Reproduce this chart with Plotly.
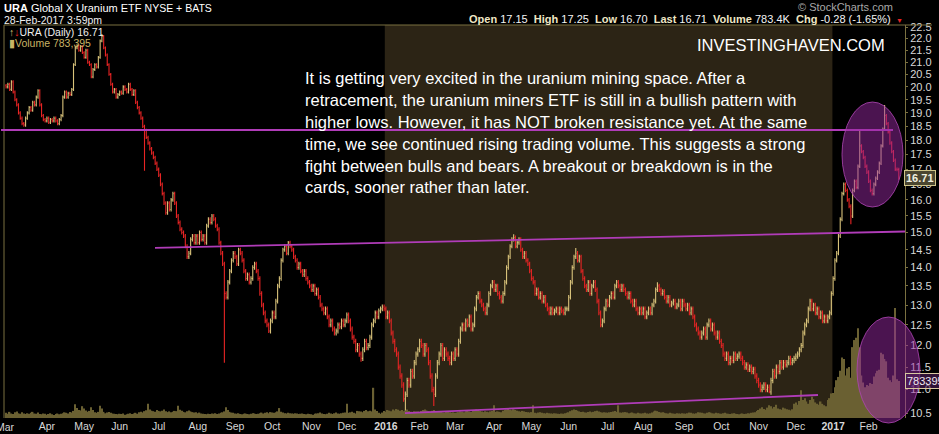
import math
import pandas as pd
import plotly.graph_objects as go

# ---------------- data ----------------
nyse_holidays = ["2015-04-03", "2015-05-25", "2015-07-03", "2015-09-07", "2015-11-26", "2015-12-25",
                 "2016-01-01", "2016-01-18", "2016-02-15", "2016-03-25", "2016-05-30", "2016-07-04",
                 "2016-09-05", "2016-11-24", "2016-12-26", "2017-01-02", "2017-01-16", "2017-02-20"]
dates = pd.bdate_range("2015-03-02", "2017-02-28", freq="C", holidays=nyse_holidays)

close = [
    # 2015 Mar
    20.0, 20.1, 19.9, 20.2, 19.8, 19.5, 19.3, 19.0, 18.8, 18.6, 18.55, 18.8, 19.0, 19.2, 19.1, 19.4, 19.3, 19.6, 19.85, 19.3, 18.9, 18.75,
    # Apr
    18.7, 18.8, 18.65, 18.75, 18.7, 18.8, 18.7, 18.6, 18.75, 18.9, 19.6, 19.8, 19.6, 19.75, 19.7, 19.9, 20.9, 21.6, 21.7, 21.5, 21.65,
    # May
    21.4, 21.2, 21.5, 21.0, 20.9, 20.4, 20.7, 20.9, 20.8, 21.2, 21.9, 22.1, 21.6, 21.3, 20.9, 20.5, 20.1, 19.8, 19.9, 19.6,
    # Jun
    19.7, 19.8, 19.75, 20.0, 19.9, 19.8, 20.1, 19.9, 19.7, 19.85, 19.4, 19.2, 19.0, 18.8, 18.5, 18.35, 18.1, 17.9, 17.7, 17.55, 17.4, 17.2,
    # Jul
    17.0, 16.8, 16.5, 16.2, 15.9, 15.6, 15.9, 15.7, 16.0, 16.2, 15.9, 15.5, 15.3, 15.1, 15.0, 14.9, 14.6, 14.3, 14.4, 14.8, 14.9, 14.7,
    # Aug
    14.9, 14.7, 15.0, 14.8, 14.9, 14.7, 15.2, 15.4, 15.3, 15.5, 15.4, 15.2, 15.1, 14.7, 14.4, 14.1, 13.3, 13.2, 13.6, 13.9, 14.2,
    # Sep
    14.4, 14.3, 14.1, 14.5, 14.4, 14.2, 13.9, 13.7, 13.8, 13.6, 13.7, 14.0, 14.1, 13.9, 13.7, 13.3, 13.0, 12.8, 12.6, 12.5, 12.35,
    # Oct
    12.6, 12.8, 12.7, 13.1, 13.5, 13.7, 14.2, 14.5, 14.6, 14.4, 14.7, 14.6, 14.5, 14.3, 14.2, 14.0, 14.1, 13.9, 13.8, 13.9, 13.7, 13.6,
    # Nov
    13.5, 13.4, 13.5, 13.3, 13.4, 13.2, 13.0, 12.9, 12.8, 12.9, 12.7, 12.5, 12.6, 12.4, 12.3, 12.35, 12.5, 12.45, 12.6, 12.5,
    # Dec
    12.6, 12.75, 12.6, 12.4, 12.2, 12.1, 11.9, 12.0, 11.8, 11.7, 11.9, 12.1, 11.95, 12.0, 12.2, 12.5, 12.6, 12.8, 12.7, 12.85, 12.9, 12.95,
    # 2016 Jan
    12.9, 12.7, 12.8, 12.6, 12.3, 12.1, 11.9, 11.8, 11.5, 11.3, 11.1, 10.8, 10.9, 11.2, 11.1, 11.4, 11.3, 11.6, 11.8,
    # Feb
    11.9, 12.1, 12.0, 11.8, 12.0, 11.9, 11.6, 11.3, 11.0, 10.9, 11.3, 11.6, 11.8, 12.0, 11.7, 11.9, 11.8, 11.7, 11.6, 11.8,
    # Mar
    11.7, 11.9, 11.8, 12.1, 12.4, 12.5, 12.4, 12.6, 12.5, 12.7, 12.4, 12.5, 12.9, 13.2, 13.3, 13.1, 13.0, 12.9, 12.8, 13.0, 13.3, 13.5,
    # Apr
    13.6, 13.4, 13.5, 13.3, 13.2, 13.1, 13.3, 13.6, 14.0, 14.3, 14.6, 14.8, 14.85, 14.6, 14.7, 14.8, 14.5, 14.3, 14.4, 14.2, 14.1,
    # May
    13.9, 13.7, 13.6, 13.3, 13.4, 13.2, 13.3, 13.1, 13.2, 13.0, 12.9, 12.8, 12.9, 12.8, 12.85, 12.9, 12.8, 12.9, 12.85, 12.8, 12.9,
    # Jun
    12.9, 13.2, 13.6, 14.0, 14.3, 14.4, 14.2, 14.3, 13.9, 13.7, 13.5, 13.4, 13.6, 13.3, 13.5, 13.6, 13.4, 13.1, 12.8, 12.5, 12.6, 12.9,
    # Jul
    13.1, 13.0, 13.2, 13.3, 13.2, 13.5, 13.6, 13.5, 13.4, 13.5, 13.4, 13.3, 13.2, 13.3, 13.1, 13.0, 13.1, 12.9, 12.8, 12.9,
    # Aug
    12.8, 12.9, 12.7, 12.8, 12.9, 12.8, 13.0, 13.1, 13.4, 13.5, 13.4, 13.3, 13.35, 13.2, 13.1, 13.2, 13.0, 13.05, 13.1, 12.95, 13.0, 13.1, 12.9,
    # Sep
    13.1, 13.0, 12.9, 13.0, 12.8, 12.9, 12.7, 12.5, 12.4, 12.3, 12.2, 12.3, 12.4, 12.2, 12.5, 12.6, 12.4, 12.5, 12.3, 12.2, 12.3,
    # Oct
    12.1, 12.0, 11.8, 11.7, 11.8, 11.6, 11.7, 11.65, 11.8, 11.7, 11.75, 11.8, 11.7, 11.6, 11.5, 11.55, 11.45, 11.5, 11.4, 11.45, 11.3,
    # Nov
    11.2, 11.1, 11.0, 11.05, 11.1, 11.0, 11.05, 10.95, 11.2, 11.4, 11.3, 11.5, 11.4, 11.6, 11.5, 11.6, 11.55, 11.6, 11.7, 11.6, 11.65,
    # Dec
    11.7, 11.75, 11.8, 11.9, 12.0, 12.3, 12.5, 12.6, 12.9, 13.1, 12.9, 13.0, 12.8, 12.9, 12.7, 12.8, 12.6, 12.7, 12.6, 12.7, 12.8,
    # 2017 Jan
    13.3, 13.7, 14.2, 14.4, 14.9, 15.4, 16.2, 16.5, 16.3, 16.0, 15.8, 15.5, 16.3, 16.6, 16.4, 17.1, 17.8, 17.6, 17.4, 17.1,
    # Feb
    16.9, 16.6, 16.3, 16.2, 16.5, 16.7, 16.9, 17.2, 17.8, 18.4, 18.9, 18.6, 18.3, 17.9, 17.6, 17.3, 17.0, 16.99, 16.71,
]

volume_k = [
    110, 90, 130, 95, 85, 120, 140, 100, 90, 120, 95, 85, 100, 90, 110, 130, 95, 90, 115, 85, 80, 95,
    90, 70, 85, 100, 80, 65, 85, 95, 80, 90, 100, 120, 110, 95, 125, 115, 150, 290, 210, 170, 160,
    250, 200, 160, 130, 150, 230, 170, 120, 110, 130, 260, 200, 130, 100, 115, 125, 110, 95, 90, 85,
    80, 90, 85, 95, 70, 80, 90, 100, 85, 95, 110, 90, 120, 130, 115, 145, 165, 300, 180, 155, 145, 130,
    170, 150, 140, 155, 180, 145, 125, 140, 120, 130, 150, 145, 260, 175, 155, 130, 120, 145, 160, 140, 125, 115,
    120, 100, 115, 95, 90, 85, 80, 90, 85, 95, 90, 100, 85, 95, 110, 120, 140, 230, 170, 130, 115,
    110, 95, 90, 100, 85, 80, 90, 95, 85, 80, 90, 100, 95, 85, 90, 100, 115, 95, 110, 120, 100,
    125, 115, 110, 120, 140, 210, 130, 115, 100, 95, 110, 100, 95, 90, 100, 95, 85, 90, 95, 85, 80, 90,
    85, 80, 70, 90, 95, 100, 115, 95, 85, 80, 90, 110, 95, 85, 100, 115, 95, 90, 100, 110,
    115, 300, 110, 120, 130, 110, 95, 150, 145, 140, 120, 150, 170, 145, 155, 140, 640, 180, 150, 110, 90, 115,
    150, 130, 170, 155, 145, 180, 160, 190, 175, 155, 170, 145, 155, 180, 150, 130, 125, 145, 140,
    140, 125, 150, 170, 180, 160, 145, 130, 155, 170, 150, 140, 125, 145, 120, 115, 130, 125, 120, 115,
    120, 110, 115, 125, 140, 130, 120, 145, 155, 140, 125, 150, 165, 180, 170, 150, 140, 125, 145, 130, 120, 140,
    150, 270, 125, 140, 130, 120, 155, 170, 180, 195, 175, 165, 185, 170, 155, 145, 130, 150, 140, 125, 120,
    115, 125, 270, 110, 100, 115, 120, 110, 100, 95, 110, 100, 95, 90, 100, 95, 90, 85, 95, 90, 100,
    110, 120, 145, 165, 180, 170, 155, 140, 125, 130, 120, 115, 125, 140, 120, 130, 145, 155, 140, 125, 115, 120,
    115, 110, 120, 125, 140, 150, 130, 270, 115, 110, 120, 125, 115, 100, 110, 115, 100, 95, 110, 100,
    95, 100, 110, 95, 90, 100, 115, 140, 155, 145, 125, 115, 120, 110, 100, 95, 110, 100, 95, 90, 100, 95, 90,
    100, 95, 90, 100, 115, 110, 95, 90, 100, 120, 115, 110, 100, 95, 110, 120, 115, 100, 95, 110, 100,
    95, 90, 100, 110, 95, 90, 85, 95, 100, 90, 85, 80, 90, 95, 85, 90, 100, 95, 110, 115, 120,
    150, 170, 200, 230, 190, 175, 220, 270, 250, 200, 235, 280, 200, 185, 175, 220, 200, 185, 175, 160, 185,
    300, 330, 280, 360, 590, 380, 420, 350, 300, 380, 450, 400, 330, 300, 280, 350, 300, 270, 250, 380, 420,
    520, 530, 650, 800, 870, 1000, 1280, 1250, 900, 1050, 1080, 850, 1500, 1650, 1700, 1900, 1500, 900, 750, 650,
    700, 680, 740, 720, 880, 950, 1000, 1020, 1380, 1350, 1250, 1200, 850, 800, 760, 900, 2330, 820, 783.395,
]

first_open = 20.05
wick = 0.06
low_extremes = {78: 16.95, 123: 11.6, 148: 12.3, 200: 11.62, 225: 10.55, 241: 10.65, 430: 10.92, 476: 15.25}
high_extremes = {54: 22.2, 159: 14.75, 286: 14.95, 321: 14.55, 367: 13.6, 481: 18.4, 495: 19.3}

price_ticks = [10.5, 11.0, 11.5, 12.0, 12.5, 13.0, 13.5, 14.0, 14.5, 15.0, 15.5, 16.0, 16.5,
               17.0, 17.5, 18.0, 18.5, 19.0, 19.5, 20.0, 20.5, 21.0, 21.5, 22.0, 22.5]

assert len(dates) == len(close) == len(volume_k), (len(dates), len(close), len(volume_k))

n = len(close)
idx = list(range(n))
opens = [first_open] + close[:-1]
highs = [max(o, c) + wick for o, c in zip(opens, close)]
lows = [min(o, c) - wick for o, c in zip(opens, close)]
for k, v in low_extremes.items():
    lows[k] = v
for k, v in high_extremes.items():
    highs[k] = v

# month ticks (first month label is drawn separately since it sits on the left edge)
tickvals, ticktext = [], []
prev = None
first_label = None
for i, d in enumerate(dates):
    if prev is None or d.month != prev:
        lab = f"<b>{d.year}</b>" if d.month == 1 else d.strftime("%b")
        if prev is None:
            first_label = lab
        else:
            tickvals.append(i + 1)
            ticktext.append(lab)
    prev = d.month

# ---------------- geometry helpers (pixel -> paper) ----------------
L, R, T, B = 5, 905, 25, 418
def px(x):
    return (x - L) / (R - L)
def py(y):
    return (B - y) / (B - T)

FONT = "Arial, Liberation Sans, sans-serif"
OLIVE = "#7a7040"
MAG = "#b03cb8"

fig = go.Figure()
fig.add_trace(go.Bar(x=idx, y=volume_k, yaxis="y2", marker=dict(color="#6a6032", line=dict(width=0)),
                     width=0.8, hoverinfo="skip", showlegend=False))
fig.add_trace(go.Ohlc(x=idx, open=opens, high=highs, low=lows, close=close, tickwidth=0.45,
                      increasing=dict(line=dict(color="#d8c27a", width=1.1)),
                      decreasing=dict(line=dict(color="#e82424", width=1.1)),
                      hoverinfo="skip", showlegend=False))

shapes = [
    dict(type="rect", xref="x", yref="paper", x0=213.4, x1=465.6, y0=0, y1=1,
         fillcolor="#2c2415", line=dict(width=0), layer="below"),
    dict(type="line", xref="paper", yref="paper", x0=px(4), x1=px(932), y0=py(25), y1=py(25),
         line=dict(color=OLIVE, width=1)),
    dict(type="line", xref="paper", yref="paper", x0=px(4), x1=px(4), y0=0, y1=1,
         line=dict(color=OLIVE, width=1)),
    dict(type="line", xref="paper", yref="paper", x0=px(1), x1=px(893), y0=py(130), y1=py(130),
         line=dict(color=MAG, width=1.8)),
    dict(type="line", xref="paper", yref="paper", x0=px(155), x1=px(905), y0=py(247.8), y1=py(231.5),
         line=dict(color=MAG, width=1.8)),
    dict(type="line", xref="paper", yref="paper", x0=px(405), x1=px(818), y0=py(413.2), y1=py(395),
         line=dict(color=MAG, width=1.8)),
    dict(type="circle", xref="paper", yref="paper", x0=px(842), x1=px(903), y0=py(207), y1=py(102),
         fillcolor="rgba(150,40,160,0.5)", line=dict(color="rgba(175,70,180,0.8)", width=1)),
    dict(type="circle", xref="paper", yref="paper", x0=px(857), x1=px(920), y0=py(423), y1=py(317),
         fillcolor="rgba(150,40,160,0.5)", line=dict(color="rgba(175,70,180,0.8)", width=1)),
]

def ann(x, y, text, size=11, color="#ffffff", xanchor="left", **kw):
    return dict(xref="paper", yref="paper", x=px(x), y=py(y), text=text, showarrow=False,
                xanchor=xanchor, yanchor="middle", font=dict(family=FONT, size=size, color=color), **kw)

body = [
    "It is getting very excited in the uranium mining space. After a",
    "retracement, the uranium miners ETF is still in a bullish pattern with",
    "higher lows. However, it has NOT broken resistance yet. At the same",
    "time, we see continued rising trading volume. This suggests a strong",
    "fight between bulls and bears. A breakout or breakdown is in the",
    "cards, sooner rather than later.",
]
body_y = [78, 100, 122, 144, 166, 187]

LBL = "#efe6c4"
annotations = [
    ann(2, 8, "<b>URA</b> Global X Uranium ETF <span style='font-size:10.5px'>NYSE + BATS</span>", size=11),
    ann(2, 20, "28-Feb-2017 3:59pm", size=10.5, color="#f0f0f0"),
    ann(7, 32, "<span style='color:#d8c27a'>↑</span><span style='color:#e82424'>↓</span>URA (Daily) 16.71",
        size=10.5, color="#f0f0f0"),
    ann(7, 43, "▮Volume 783,395", size=10.5, color="#c8b466"),
    ann(895, 7, "© StockCharts.com", size=11, color="#a8a8a8", xanchor="right"),
    ann(893, 19, f"<b><span style='color:{LBL}'>Open</span></b> 17.15  "
                 f"<b><span style='color:{LBL}'>High</span></b> 17.25  "
                 f"<b><span style='color:{LBL}'>Low</span></b> 16.70  "
                 f"<b><span style='color:{LBL}'>Last</span></b> 16.71  "
                 f"<b><span style='color:{LBL}'>Volume</span></b> 783.4K  "
                 f"<b><span style='color:{LBL}'>Chg</span></b> -0.28 (-1.65%)",
        size=11, color="#f4f4f4", xanchor="right"),
    ann(894, 21, "▼", size=7, color="#e82424"),
    ann(791, 45, "INVESTINGHAVEN.COM", size=16.5, color="#ffffff", xanchor="center"),
    ann(904, 178, "<b>16.71</b>", size=11, color="#f0f0e0", bgcolor="#4a4630", bordercolor="#d0c68a",
        borderwidth=1, borderpad=1),
    ann(905, 381, "783395", size=11, color="#f0e8f0", bgcolor="rgba(80,30,90,0.6)", bordercolor="#d8c8a0",
        borderwidth=1, borderpad=1),
    ann(5, 427, first_label, size=10.5, color="#d8d8d8", xanchor="center"),
]
for t, y in zip(body, body_y):
    annotations.append(ann(303, y, t, size=16.5, color="#ffffff"))

fig.update_layout(
    width=939, height=434,
    margin=dict(l=L, r=939 - R, t=T, b=434 - B, autoexpand=False),
    paper_bgcolor="#000000", plot_bgcolor="#000000",
    showlegend=False, hovermode=False,
    font=dict(family=FONT, color="#d8d8d8"),
    xaxis=dict(range=[-0.6, 506.5], tickvals=tickvals, ticktext=ticktext, showgrid=False, zeroline=False,
               showline=False, ticks="", tickfont=dict(size=10.5, color="#d8d8d8", family=FONT),
               rangeslider=dict(visible=False), fixedrange=True, automargin=False),
    yaxis=dict(type="log", range=[math.log10(10.4), math.log10(22.6)], side="right",
               tickvals=price_ticks, ticktext=[f"{v:.1f}" for v in price_ticks],
               showgrid=False, zeroline=False, showline=True, linecolor=OLIVE, linewidth=1,
               ticks="outside", ticklen=2, tickcolor=OLIVE, automargin=False,
               tickfont=dict(size=11, color="#d8d8d8", family=FONT), fixedrange=True),
    yaxis2=dict(overlaying="y", range=[0, 8320], visible=False, fixedrange=True),
    shapes=shapes, annotations=annotations,
)

fig.write_html("out.html", config={"displayModeBar": False},
               post_script="document.body.style.margin='0';document.body.style.padding='0';"
                           "document.body.style.overflow='hidden';document.body.style.background='#000';")
